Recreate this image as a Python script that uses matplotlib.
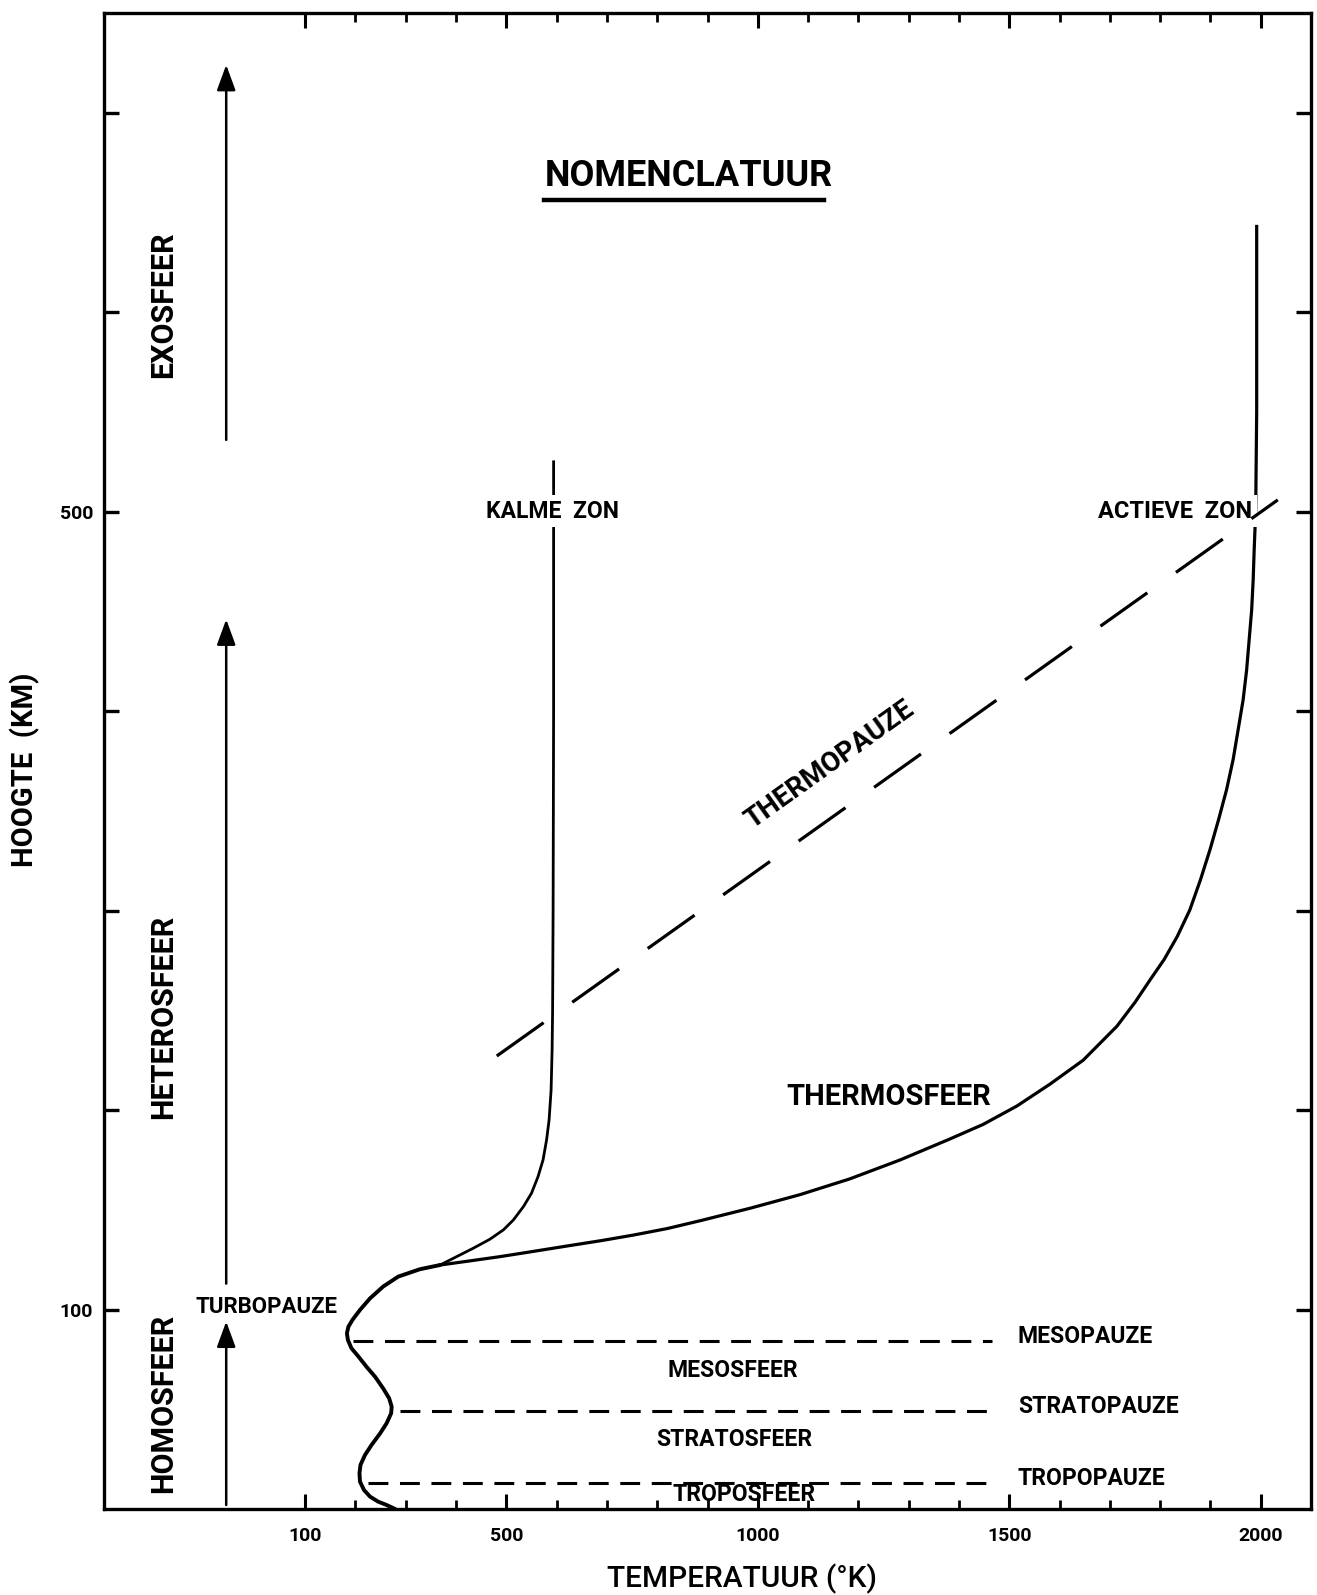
import numpy as np
import matplotlib.pyplot as plt
from matplotlib.ticker import FixedLocator, FixedFormatter

plt.rcParams['font.family'] = ['Roboto', 'DejaVu Sans']

# temperature profile (K) vs height (km), shared part up to the split
lower_T = [279, 262, 245, 229, 217, 209, 208, 210, 219, 232, 249, 262, 271, 272, 267, 255,
           239, 222, 206, 192, 185, 183, 186, 194, 209, 229, 255, 285, 328, 368]
lower_h = [0, 2.0, 3.7, 6.2, 9.5, 13.7, 17.9, 22.1, 27.1, 32.1, 37.9, 43.0, 48.0, 51.3, 55.5, 60.5,
           66.3, 71.3, 76.4, 80.6, 84.7, 88.1, 91.4, 94.8, 99.8, 105.6, 111.5, 116.5, 120.2, 122.3]

# quiet sun branch
calm_T = [368, 401, 434, 467, 494, 514, 534, 550, 563, 573, 580, 585, 589, 591, 592, 593, 594, 594]
calm_h = [122.3, 126.5, 130.7, 135.2, 139.9, 144.9, 151.6, 158.3, 166.6, 175.0, 185, 195, 210,
          230, 250, 300, 400, 525]

# active sun branch
active_T = [368, 425, 487, 555, 622, 690, 752, 820, 885, 985, 1084, 1183, 1283, 1382, 1448, 1515,
            1581, 1647, 1714, 1750, 1782, 1808, 1834, 1859, 1880, 1899, 1916, 1932, 1945, 1955,
            1965, 1972, 1977, 1982, 1985, 1987, 1990, 1992, 1992]
active_h = [122.3, 124.3, 126.5, 129.2, 131.9, 134.6, 137.3, 140.6, 144.5, 150.8, 157.6, 165.5,
            175.0, 185.5, 192.8, 202.0, 213.0, 225.0, 242.0, 254.0, 266.0, 275.5, 287.0, 300.3,
            315.3, 330.4, 345.4, 360.5, 375.5, 390.5, 405.6, 420.6, 435.7, 450.7, 465.7, 480.8,
            500, 550, 643]

# the three lower boundaries: name, height, start T, end T
pause_names = ['TROPOPAUZE', 'STRATOPAUZE', 'MESOPAUZE']
pause_h = [13, 49, 84.2]
pause_T0 = [225, 289, 196]
pause_T1 = [1465, 1465, 1465]

layer_names = ['TROPOSFEER', 'STRATOSFEER', 'MESOSFEER']
layer_T = [973, 953, 951]
layer_h = [7.5, 34.6, 69.2]

# thermopause line end points
thermo_T = [481, 2034]
thermo_h = [227.1, 505.9]

# left arrows (homo-, hetero-, exosphere): start and tip heights
arrow_T = -57
arrow_h0 = [2, 113, 536]
arrow_h1 = [94, 446, 724]
sphere_names = ['HOMOSFEER', 'HETEROSFEER', 'EXOSFEER']
sphere_h = [53.1, 246.7, 603.6]

x_major = [100, 500, 1000, 1500, 2000]
x_minor = [t for t in range(200, 2000, 100) if t not in x_major]
y_ticks = [100, 200, 300, 400, 500, 600, 700]
y_labels = ['100', '', '', '', '500', '', '']

fig = plt.figure(figsize=(13.17, 15.95), dpi=100)
ax = fig.add_axes([104 / 1317, 1 - 1509 / 1595, 1207 / 1317, 1496 / 1595])
ax.set_xlim(-300, 2100)
ax.set_ylim(0, 750)

for s in ax.spines.values():
    s.set_linewidth(2.4)

ax.xaxis.set_major_locator(FixedLocator(x_major))
ax.xaxis.set_minor_locator(FixedLocator(x_minor))
ax.yaxis.set_major_locator(FixedLocator(y_ticks))
ax.yaxis.set_major_formatter(FixedFormatter(y_labels))
ax.tick_params(axis='x', which='major', direction='in', top=True, length=11, width=2.2,
               pad=13, labelsize=14)
ax.tick_params(axis='x', which='minor', direction='in', top=True, length=6.5, width=2.0)
ax.tick_params(axis='y', which='major', direction='in', right=True, length=11, width=2.4,
               pad=8, labelsize=14)
for lab in ax.get_xticklabels() + ax.get_yticklabels():
    lab.set_fontweight('bold')

# temperature profiles
ax.plot(lower_T, lower_h, color='black', lw=2.8, solid_joinstyle='round', solid_capstyle='round')
ax.plot(calm_T, calm_h, color='black', lw=2.0, solid_joinstyle='round')
ax.plot(active_T, active_h, color='black', lw=2.3, solid_joinstyle='round')

# tropo-/strato-/mesopause
for name, h, t0, t1 in zip(pause_names, pause_h, pause_T0, pause_T1):
    ax.plot([t0, t1], [h, h], color='black', lw=2.2, dashes=(6.5, 3.8), zorder=4)
    ax.text(1517, h + 2.3, name, fontsize=16.5, fontweight='bold', ha='left', va='center')

for name, t, h in zip(layer_names, layer_T, layer_h):
    ax.text(t, h, name, fontsize=16.5, fontweight='bold', ha='center', va='center')

# thermopause
ax.plot(thermo_T, thermo_h, color='black', lw=2.3, dashes=(18, 11), zorder=5)
ax.text(1144, 373, 'THERMOPAUZE', fontsize=20, fontweight='bold', rotation=35.5,
        rotation_mode='anchor', ha='center', va='center')

ax.text(1261, 206.6, 'THERMOSFEER', fontsize=21, fontweight='bold', ha='center', va='center')
ax.text(24, 101.3, 'TURBOPAUZE', fontsize=16, fontweight='bold', ha='center', va='center')

box = dict(facecolor='white', edgecolor='none', pad=3)
ax.text(591, 500.3, 'KALME  ZON', fontsize=16.5, fontweight='bold', ha='center', va='center',
        bbox=box, zorder=4)
ax.text(1830, 500.3, 'ACTIEVE  ZON', fontsize=17, fontweight='bold', ha='center', va='center',
        bbox=box, zorder=4)

# arrows and sphere names on the left
for h0, h1 in zip(arrow_h0, arrow_h1):
    ax.annotate('', xy=(arrow_T, h1), xytext=(arrow_T, h0),
                arrowprops=dict(arrowstyle='-|>,head_length=0.6,head_width=0.22', color='black',
                                lw=1.8, mutation_scale=26, shrinkA=0, shrinkB=0))
for name, h in zip(sphere_names, sphere_h):
    ax.text(-183, h, name, fontsize=22, fontweight='bold', rotation=90, ha='center', va='center')

# title with underline
ax.text(863, 668.3, 'NOMENCLATUUR', fontsize=26, fontweight='bold', ha='center', va='center')
ax.plot([575, 1132], [656.3, 656.3], color='black', lw=3.2)

fig.text(25 / 1317, 1 - 770 / 1595, 'HOOGTE  (KM)', fontsize=21, fontweight='bold',
         rotation=90, ha='center', va='center')
fig.text(742 / 1317, 1 - 1579 / 1595, 'TEMPERATUUR (°K)', fontsize=21.5, fontweight='medium',
         ha='center', va='center')

fig.savefig('out.png', dpi=100, facecolor='white')
